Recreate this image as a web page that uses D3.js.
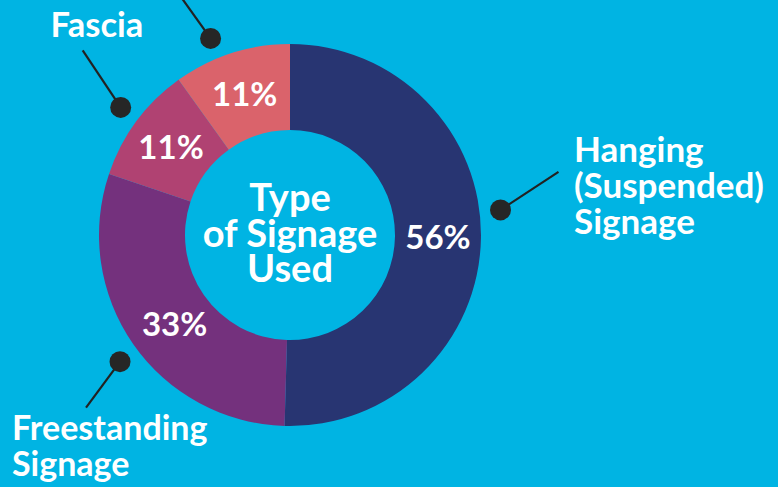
<!DOCTYPE html>
<html>
<head>
<meta charset="utf-8">
<script src="https://cdn.jsdelivr.net/npm/d3@7.9.0/dist/d3.min.js"></script>
<style>
  html, body { margin: 0; padding: 0; background: #00b4e3; }
  svg { display: block; }
  text { font-family: Lato, "Open Sans", sans-serif; font-weight: 700; fill: #fff; }
</style>
</head>
<body>
<div id="chart"></div>
<script>
const categories = ['Hanging (Suspended) Signage', 'Freestanding Signage', 'Fascia', 'Projecting Signage'];
const percents = [56, 33, 11, 11];
const labelLines = [['Hanging', '(Suspended)', 'Signage'], ['Freestanding', 'Signage'], ['Fascia'], []];
const centerTitle = ['Type', 'of Signage', 'Used'];
const colors = ['#283572', '#74317d', '#b04272', '#da636b'];

const width = 778;
const height = 487;
const cx = 290;
const cy = 235;
const outerR = 191;
const innerR = 105;

// leader-line layout per slice: dot angle (deg, clockwise from top), line end offset, text anchor
const leaders = [
  { angle: 83.2, end: [58, -38], text: [574, 162], anchor: 'start', size: 35 },
  { angle: 233.3, end: [-34, 46], text: [12, 440], anchor: 'start', size: 34 },
  { angle: 307, end: [-38, -57], text: [97, 37], anchor: 'middle', size: 34.5 },
  { angle: 338, end: [-30, -42], text: null, anchor: 'start', size: 34 },
];

const data = categories.map((name, i) => ({ name, value: percents[i], lines: labelLines[i] }));

const svg = d3.select('#chart')
  .append('svg')
  .attr('width', width)
  .attr('height', height);

svg.append('rect').attr('width', width).attr('height', height).attr('fill', '#00b4e3');

const g = svg.append('g').attr('transform', `translate(${cx},${cy})`);

const pie = d3.pie().value((d) => d.value).sort(null);
const arc = d3.arc().innerRadius(innerR).outerRadius(outerR);
const arcs = pie(data);

g.selectAll('path.slice')
  .data(arcs)
  .join('path')
  .attr('class', 'slice')
  .attr('d', arc)
  .attr('fill', (d, i) => colors[i]);

g.selectAll('text.pct')
  .data(arcs)
  .join('text')
  .attr('class', 'pct')
  .attr('transform', (d) => {
    const [x, y] = arc.centroid(d);
    return d.index === 1 ? `translate(${x + 6},${y + 5})` : `translate(${x},${y})`;
  })
  .attr('text-anchor', 'middle')
  .attr('dy', '0.36em')
  .style('font-size', '33px')
  .text((d) => `${d.data.value}%`);

const title = g.append('text')
  .attr('text-anchor', 'middle')
  .style('font-size', '38px');
centerTitle.forEach((line, i) => {
  title.append('tspan').attr('x', 0).attr('y', -24 + i * 35.5).text(line);
});

// leader lines with dots
const dotR = 212;
leaders.forEach((l, i) => {
  const a = (l.angle * Math.PI) / 180;
  const x = cx + dotR * Math.sin(a);
  const y = cy - dotR * Math.cos(a);
  svg.append('line')
    .attr('x1', x).attr('y1', y)
    .attr('x2', x + l.end[0]).attr('y2', y + l.end[1])
    .attr('stroke', '#222').attr('stroke-width', 2.2);
  svg.append('circle')
    .attr('cx', x).attr('cy', y).attr('r', 10.5)
    .attr('fill', '#262626');

  if (l.text) {
    const t = svg.append('text')
      .attr('text-anchor', l.anchor)
      .style('font-size', `${l.size}px`);
    data[i].lines.forEach((line, j) => {
      t.append('tspan').attr('x', l.text[0]).attr('y', l.text[1] + j * 36).text(line);
    });
  }
});
</script>
</body>
</html>
